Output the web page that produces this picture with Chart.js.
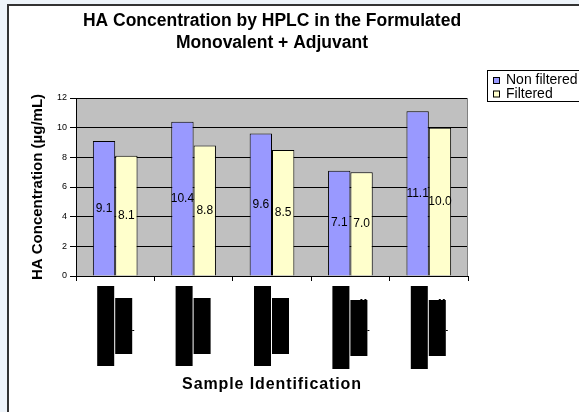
<!DOCTYPE html>
<html>
<head>
<meta charset="utf-8">
<title>HA Concentration by HPLC</title>
<script src="https://cdn.jsdelivr.net/npm/chart.js@4/dist/chart.umd.min.js"></script>
<style>
  html, body { margin: 0; padding: 0; background: #eef4fa; overflow: hidden; }
  canvas { display: block; }
</style>
</head>
<body>
<canvas id="chart" width="579" height="412"></canvas>
<script>
// Samples (identifiers are blacked out on the axis)
const categories = ['Sample 1', 'Sample 2', 'Sample 3', 'Sample 4', 'Sample 5'];
// HA concentration, µg/mL
const nonFiltered = [9.1, 10.4, 9.6, 7.1, 11.1];
const filtered = [8.1, 8.8, 8.5, 7.0, 10.0];
// Y axis
const yMin = 0;
const yMax = 12;
const yStep = 2;

const FONT = "'Liberation Sans', Arial, sans-serif";

// Page frame, grey plot background and plot outline
const framePlugin = {
  id: 'frame',
  beforeDraw(chart) {
    const { ctx, chartArea: a, width, height } = chart;
    ctx.save();
    ctx.fillStyle = '#eef4fa';
    ctx.fillRect(0, 0, width, height);
    ctx.fillStyle = '#ffffff';
    ctx.fillRect(8, 4, width - 8, height - 4);
    ctx.fillStyle = '#333333';
    ctx.fillRect(7, 4, 2, height - 4);
    ctx.fillRect(7, 4, width - 7, 2);
    ctx.fillStyle = '#c0c0c0';
    ctx.fillRect(a.left, a.top, a.right - a.left, a.bottom - a.top);
    ctx.restore();
  },
  beforeDatasetsDraw(chart) {
    const { ctx, chartArea: a } = chart;
    ctx.save();
    ctx.strokeStyle = '#808080';
    ctx.lineWidth = 1;
    ctx.beginPath();
    ctx.moveTo(a.right - 0.5, a.top);
    ctx.lineTo(a.right - 0.5, a.bottom);
    ctx.stroke();
    ctx.restore();
  }
};

// Value written in the middle of each bar
const valueLabelPlugin = {
  id: 'valueLabels',
  afterDatasetsDraw(chart) {
    const { ctx } = chart;
    ctx.save();
    ctx.font = '12px ' + FONT;
    ctx.fillStyle = '#000000';
    ctx.textAlign = 'center';
    ctx.textBaseline = 'middle';
    chart.data.datasets.forEach((ds, di) => {
      chart.getDatasetMeta(di).data.forEach((bar, i) => {
        ctx.fillText(ds.data[i].toFixed(1), bar.x, (bar.y + bar.base) / 2);
      });
    });
    ctx.restore();
  }
};

// Blacked-out sample identifiers under each category
const redactedLabelsPlugin = {
  id: 'redactedLabels',
  afterDraw(chart) {
    const { ctx } = chart;
    const xs = chart.scales.x;
    const base = chart.chartArea.bottom;
    ctx.save();
    ctx.fillStyle = '#000000';
    categories.forEach((c, i) => {
      const cx = xs.getPixelForValue(i);
      const longer = i >= 3;
      ctx.fillRect(cx - 18, base + 10, 17, longer ? 83 : 80);
      ctx.fillRect(cx, base + (longer ? 24 : 22), 17, 56);
      if (i === 0 || longer) {
        ctx.fillRect(cx + 17, base + 54, 2, 1);
      }
      if (longer) {
        ctx.fillRect(cx + 10, base + 23, 2, 1);
        ctx.fillRect(cx + 14, base + 23, 2, 1);
      }
    });
    ctx.restore();
  }
};

// Two-line title, x axis title and boxed legend at the upper right
const titleLegendPlugin = {
  id: 'titleLegend',
  afterDraw(chart) {
    const { ctx, chartArea: a } = chart;
    const midX = (a.left + a.right) / 2;
    ctx.save();
    ctx.fillStyle = '#000000';
    ctx.textAlign = 'center';
    ctx.textBaseline = 'middle';
    ctx.font = 'bold 17.5px ' + FONT;
    ctx.fillText('HA Concentration by HPLC in the Formulated', midX, 21);
    ctx.fillText('Monovalent + Adjuvant', midX, 43);

    // x axis title, slightly tracked
    ctx.font = 'bold 16px ' + FONT;
    ctx.letterSpacing = '0.9px';
    ctx.fillText('Sample Identification', midX, 385);
    ctx.letterSpacing = '0px';

    // legend box
    ctx.fillStyle = '#ffffff';
    ctx.fillRect(487, 70, 100, 32);
    ctx.strokeStyle = '#000000';
    ctx.lineWidth = 1;
    ctx.strokeRect(487.5, 70.5, 100, 31);
    ctx.font = '14px ' + FONT;
    ctx.textAlign = 'left';
    chart.data.datasets.forEach((ds, i) => {
      const cy = 80 + i * 13.5;
      ctx.fillStyle = ds.backgroundColor;
      ctx.fillRect(493, cy - 3, 7, 7);
      ctx.strokeRect(493.5, cy - 2.5, 6, 6);
      ctx.fillStyle = '#000000';
      ctx.fillText(ds.label, 506, cy + 0.5);
    });
    ctx.restore();
  }
};

new Chart(document.getElementById('chart'), {
  type: 'bar',
  data: {
    labels: categories,
    datasets: [
      {
        label: 'Non filtered',
        data: nonFiltered,
        backgroundColor: '#9999ff',
        borderColor: '#000000',
        borderWidth: 1
      },
      {
        label: 'Filtered',
        data: filtered,
        backgroundColor: '#ffffcc',
        borderColor: '#000000',
        borderWidth: 1
      }
    ]
  },
  options: {
    responsive: false,
    animation: false,
    devicePixelRatio: 1,
    layout: { padding: { left: 26, top: 98, right: 111, bottom: 16 } },
    datasets: {
      bar: { categoryPercentage: 0.57, barPercentage: 1.0 }
    },
    plugins: {
      legend: { display: false },
      title: { display: false },
      tooltip: { enabled: false }
    },
    scales: {
      x: {
        offset: true,
        grid: {
          drawOnChartArea: false,
          drawTicks: true,
          tickLength: 5,
          color: '#000000'
        },
        border: { color: '#000000', width: 1 },
        ticks: { display: false },
        afterFit(scale) { scale.height = 120; }
      },
      y: {
        min: yMin,
        max: yMax,
        ticks: {
          stepSize: yStep,
          color: '#000000',
          padding: 3,
          font: { family: FONT, size: 9 }
        },
        grid: {
          color: '#000000',
          tickColor: '#000000',
          tickLength: 6,
          lineWidth: 1
        },
        border: { color: '#000000', width: 1 },
        title: {
          display: true,
          text: 'HA Concentration (µg/mL)',
          color: '#000000',
          font: { family: FONT, size: 15, weight: 'bold' },
          padding: { top: 3, bottom: 0 }
        },
        afterFit(scale) { scale.width = 50; }
      }
    }
  },
  plugins: [framePlugin, valueLabelPlugin, redactedLabelsPlugin, titleLegendPlugin]
});
</script>
</body>
</html>
